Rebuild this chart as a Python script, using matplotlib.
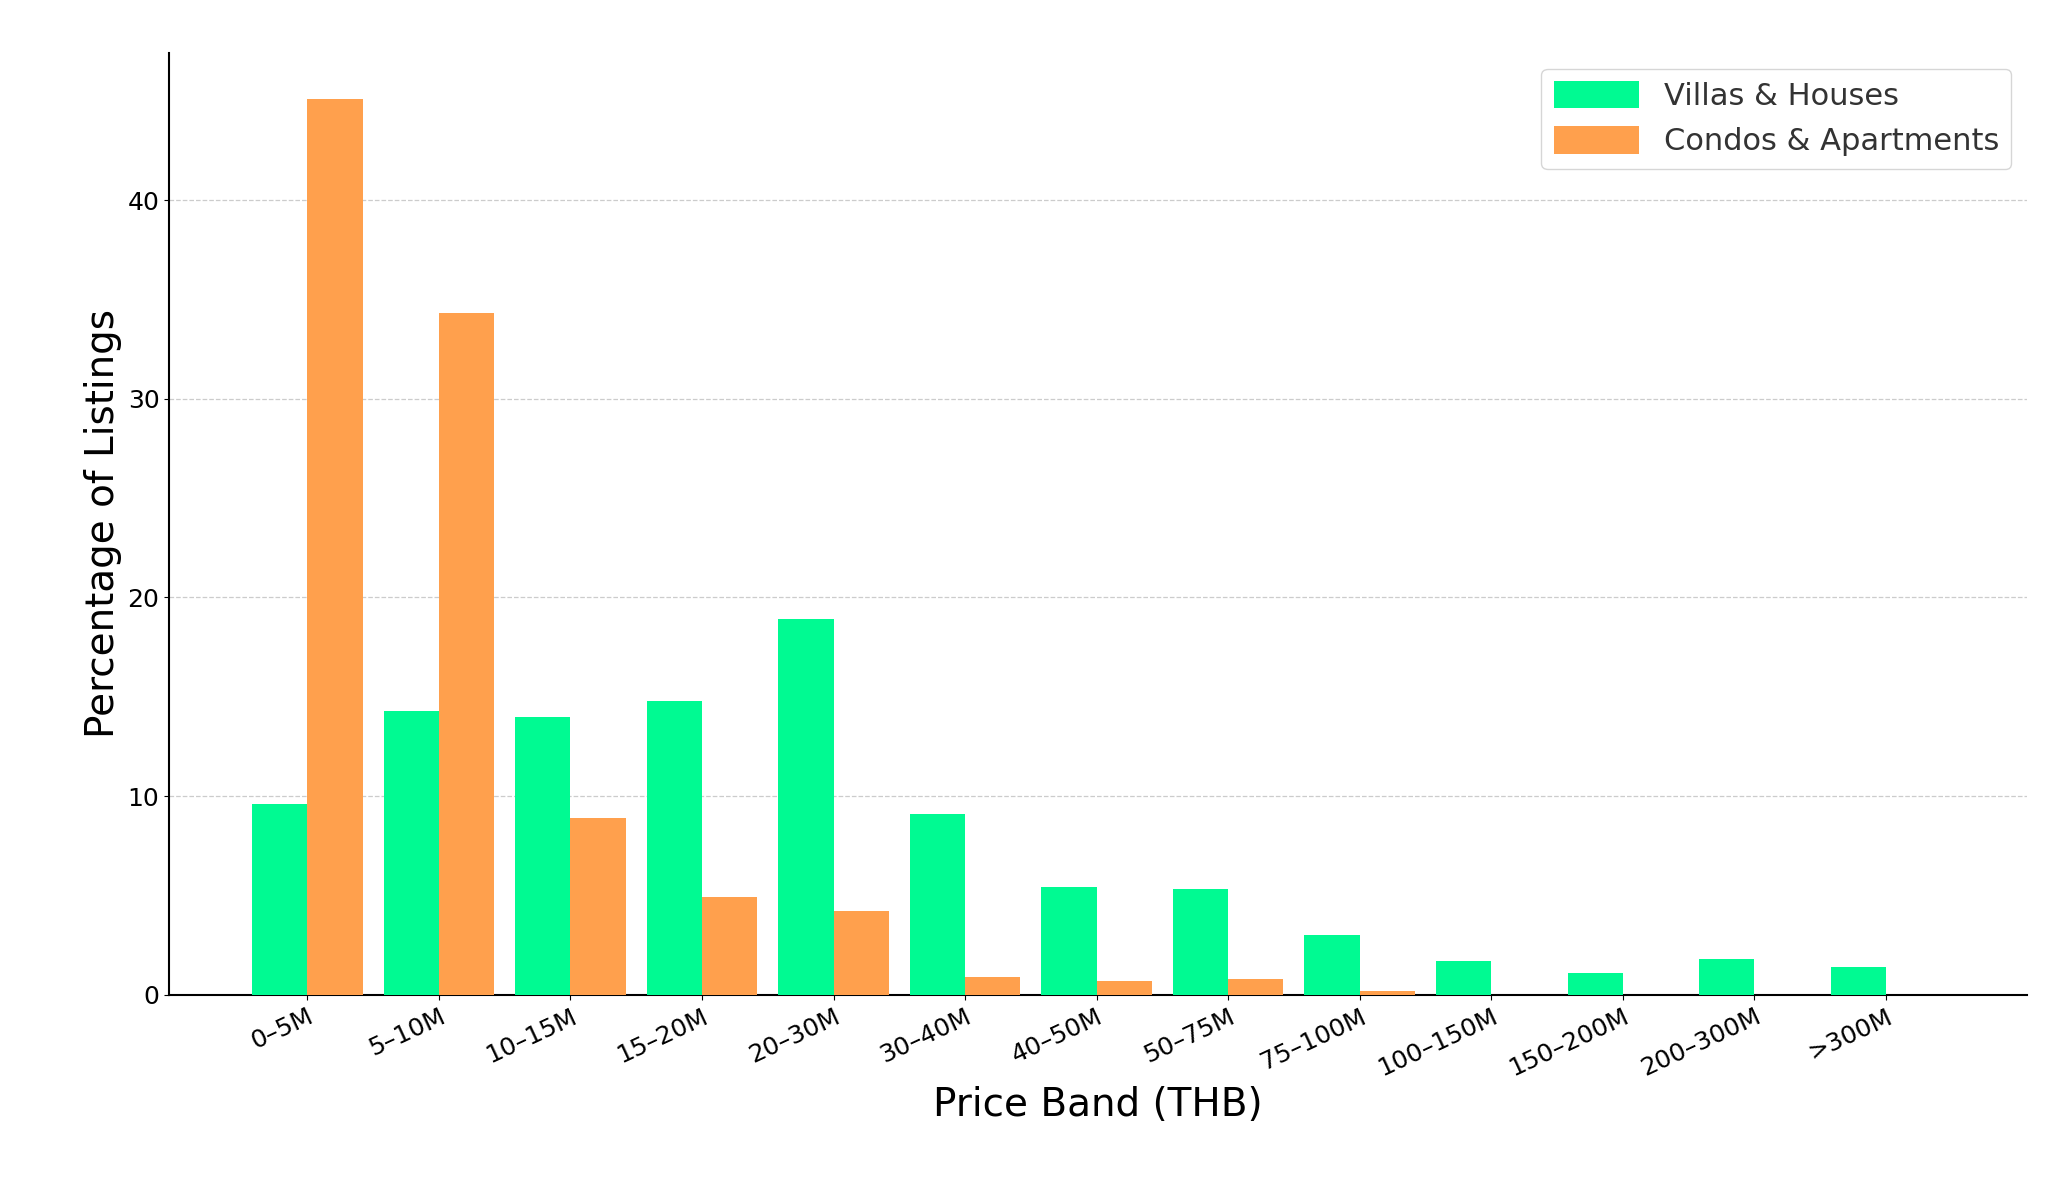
import matplotlib
matplotlib.use("Agg")
import matplotlib.pyplot as plt
import numpy as np

categories = ["0–5M","5–10M","10–15M","15–20M","20–30M","30–40M","40–50M","50–75M","75–100M","100–150M","150–200M","200–300M",">300M"]
villas = [9.6,14.3,14.0,14.8,18.9,9.1,5.4,5.3,3.0,1.7,1.1,1.8,1.4]
condos = [45.1,34.3,8.9,4.9,4.2,0.9,0.7,0.8,0.2,0,0,0,0]

fig = plt.figure(figsize=(20.57,12), dpi=100)
ax = fig.add_axes([128/1556, 1-746/900, (1533-128)/1556, (746-40)/900])
x = np.arange(len(categories))
w = 0.42
ax.bar(x-w/2, villas, w, color="#00FA92", label="Villas & Houses", zorder=3)
ax.bar(x+w/2, condos, w, color="#FFA04D", label="Condos & Apartments", zorder=3)
ax.set_xlim(-1.05, 13.07)
ax.set_ylim(0, 47.4)
ax.set_yticks([0,10,20,30,40])
ax.set_xticks(x)
ax.set_xticklabels(categories, rotation=25, ha="right", rotation_mode="anchor")
ax.tick_params(labelsize=18)
ax.grid(axis="y", linestyle="--", color="#cccccc", linewidth=0.9, zorder=0)
for s in ["top","right"]:
    ax.spines[s].set_visible(False)
ax.spines["left"].set_linewidth(1.5)
ax.spines["bottom"].set_linewidth(1.5)
ax.set_xlabel("Price Band (THB)", fontsize=28)
ax.set_ylabel("Percentage of Listings", fontsize=28)
leg = ax.legend(fontsize=22, loc="upper right", frameon=True, handlelength=2.8, handleheight=1.0)
for t in leg.get_texts():
    t.set_color("#333333")
fig.savefig("out.png", dpi=100)
